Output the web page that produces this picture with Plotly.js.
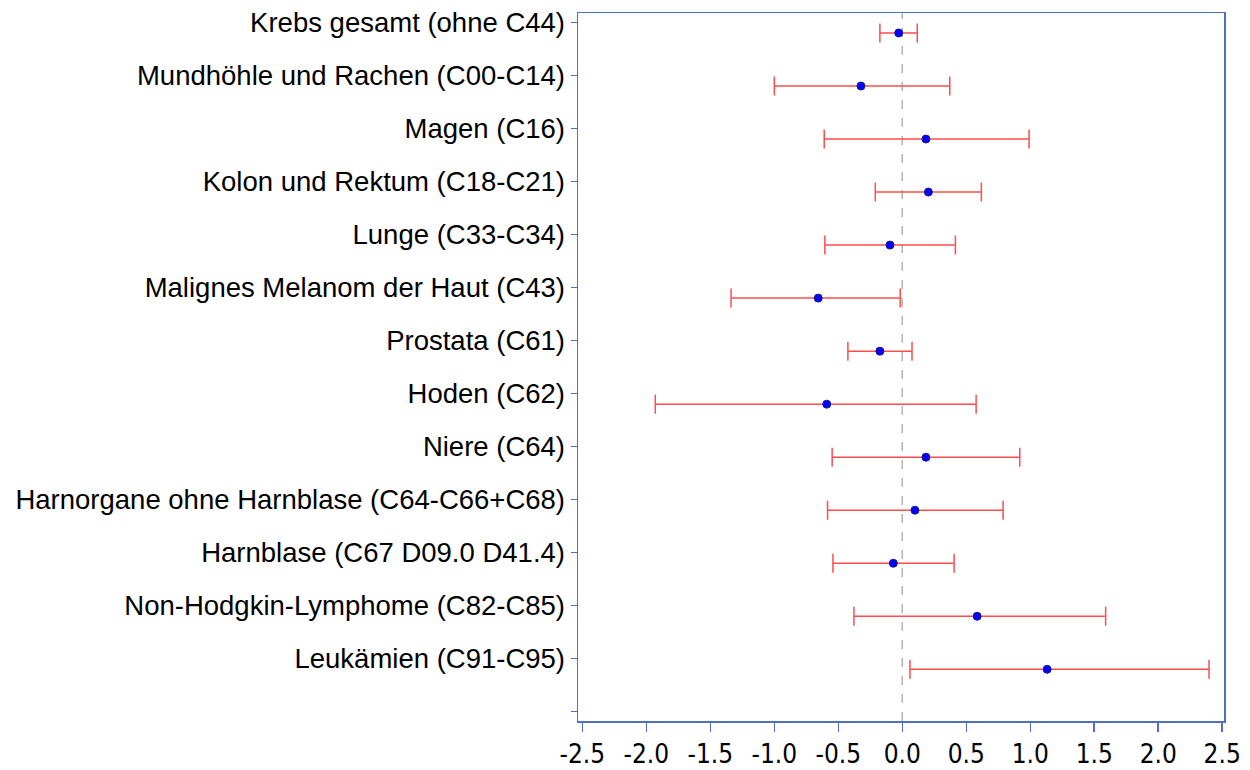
<!DOCTYPE html>
<html>
<head>
<meta charset="utf-8">
<script src="https://cdn.plot.ly/plotly-3.0.1.min.js"></script>
<style>html,body{margin:0;padding:0;background:#fff;}#chart{width:1250px;height:770px;}</style>
</head>
<body>
<div id="chart"></div>
<script>
const categories = [
  "Krebs gesamt (ohne C44)",
  "Mundhöhle und Rachen (C00-C14)",
  "Magen (C16)",
  "Kolon und Rektum (C18-C21)",
  "Lunge (C33-C34)",
  "Malignes Melanom der Haut (C43)",
  "Prostata (C61)",
  "Hoden (C62)",
  "Niere (C64)",
  "Harnorgane ohne Harnblase (C64-C66+C68)",
  "Harnblase (C67 D09.0 D41.4)",
  "Non-Hodgkin-Lymphome (C82-C85)",
  "Leukämien (C91-C95)"
];
const estimate = [-0.028, -0.323, 0.185, 0.204, -0.096, -0.657, -0.175, -0.590, 0.185, 0.099, -0.070, 0.585, 1.132];
const lower    = [-0.175, -1.000, -0.610, -0.211, -0.605, -1.338, -0.425, -1.930, -0.548, -0.584, -0.542, -0.378, 0.060];
const upper    = [0.117, 0.371, 0.991, 0.618, 0.415, -0.016, 0.076, 0.577, 0.918, 0.788, 0.405, 1.589, 2.397];
const xTicks = [-2.5, -2.0, -1.5, -1.0, -0.5, 0.0, 0.5, 1.0, 1.5, 2.0, 2.5];

const rowIdx = categories.map((c, i) => i);
const yPts = rowIdx.map(i => i + 0.2);
const errPlus = estimate.map((e, i) => upper[i] - e);
const errMinus = estimate.map((e, i) => e - lower[i]);

const axisBlue = '#4f71c4';

const trace = {
  type: 'scatter',
  mode: 'markers',
  x: estimate,
  y: yPts,
  marker: {size: 8, color: '#0000ff', line: {color: '#1a1a8c', width: 1}},
  error_x: {type: 'data', symmetric: false, array: errPlus, arrayminus: errMinus,
            color: '#ff4d4d', thickness: 1.5, width: 9.5},
  hoverinfo: 'x+y',
  showlegend: false
};

const tickvals = rowIdx.concat([categories.length]);
const ticktext = categories.concat(['']);

const layout = {
  width: 1250, height: 770,
  margin: {l: 578, r: 26, t: 13, b: 49, pad: 0},
  paper_bgcolor: '#ffffff', plot_bgcolor: '#ffffff',
  font: {family: 'Liberation Sans, Arial, sans-serif', color: '#000000'},
  xaxis: {
    range: [-2.534, 2.514],
    tickvals: xTicks,
    ticktext: xTicks.map(v => v.toFixed(1)),
    showgrid: false, zeroline: false,
    showline: true, mirror: true, linecolor: axisBlue, linewidth: 1.5,
    ticks: 'outside', ticklen: 9, tickcolor: axisBlue, tickwidth: 1.5,
    tickfont: {size: 26, family: 'Liberation Sans Narrow, DejaVu Sans Condensed, sans-serif', color: '#000'}
  },
  yaxis: {
    range: [13.175, -0.177],
    tickvals: tickvals,
    ticktext: ticktext,
    showgrid: false, zeroline: false,
    showline: true, mirror: true, linecolor: axisBlue, linewidth: 1.5,
    ticks: 'outside', ticklen: 6, tickcolor: axisBlue, tickwidth: 1.5,
    tickfont: {size: 27.5, family: 'Liberation Sans, Arial, sans-serif', color: '#000'}
  },
  shapes: [{
    type: 'line', xref: 'x', yref: 'paper', x0: 0, x1: 0, y0: 0, y1: 1,
    line: {color: '#b4b4b4', width: 1.5, dash: 'dash'}, layer: 'below'
  }]
};

Plotly.newPlot('chart', [trace], layout, {displayModeBar: false, staticPlot: true});
</script>
</body>
</html>
